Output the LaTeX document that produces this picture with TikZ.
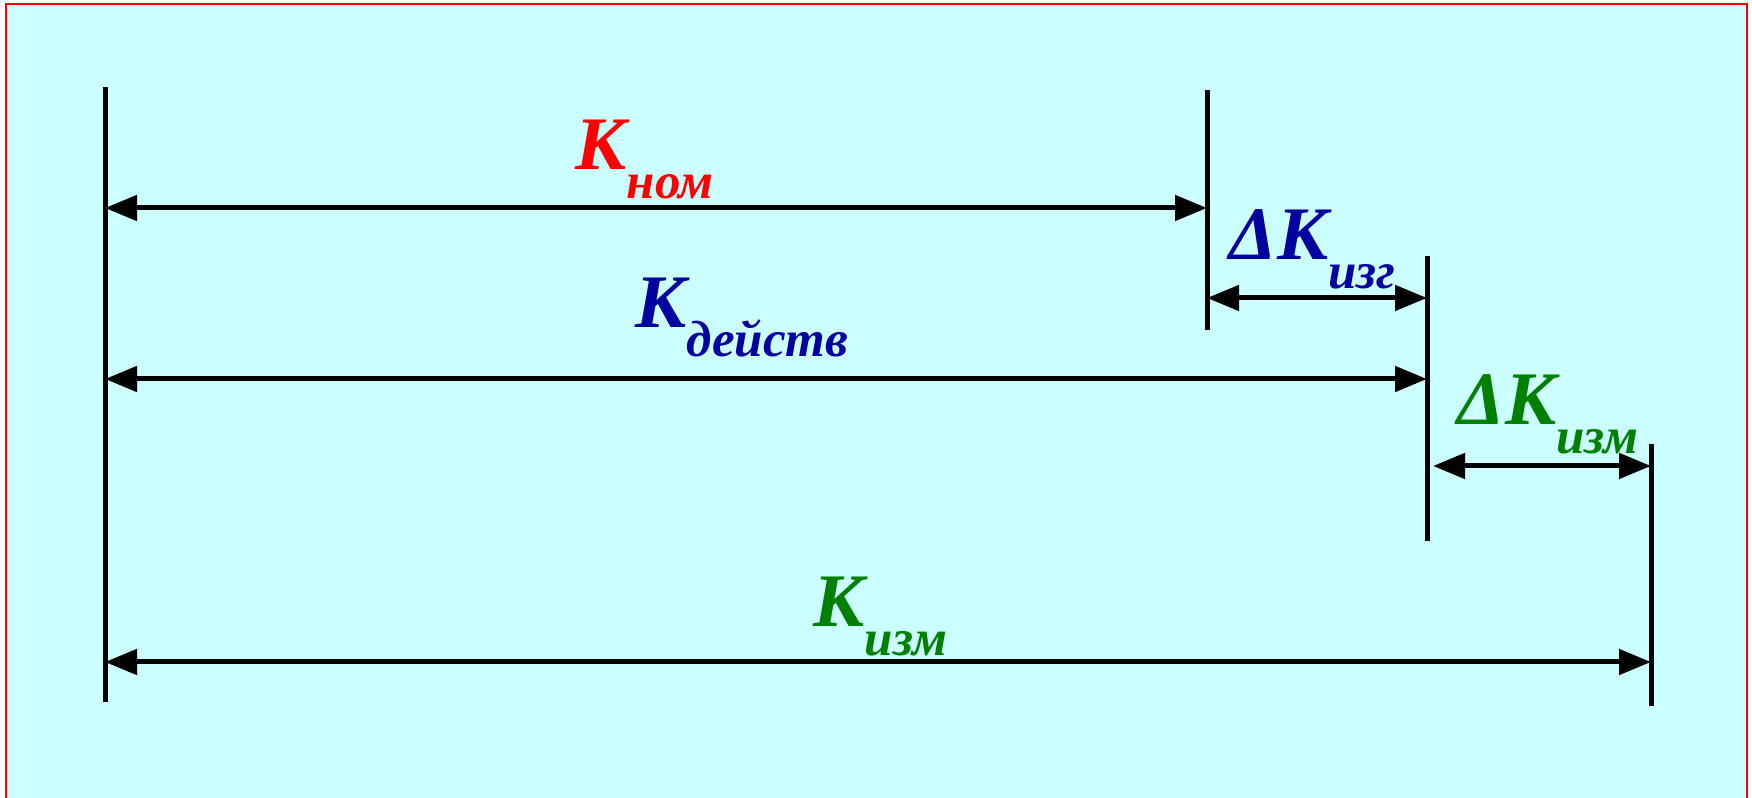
\documentclass[tikz,border=0pt]{standalone}
\usepackage{fontspec}
\setmainfont{Liberation Serif}
\usetikzlibrary{arrows.meta}
\definecolor{bgcyan}{RGB}{204,255,255}
\definecolor{nomred}{RGB}{255,0,0}
\definecolor{izgblue}{RGB}{0,0,160}
\definecolor{izmgreen}{RGB}{0,128,0}
\newcommand{\klabel}[2]{#1\raisebox{-0.28cm}{\fontsize{14.5}{14.5}\selectfont #2}}
\tikzset{
  extline/.style={line width=0.05cm, black},
  dimarrow/.style={line width=0.05cm, black,
    {Triangle[length=0.32cm,width=0.25cm]}-{Triangle[length=0.32cm,width=0.25cm]}},
  klab/.style={inner sep=0pt, anchor=base west,
    font=\fontsize{21.5}{21.5}\selectfont\bfseries\itshape}
}
\begin{document}
\begin{tikzpicture}[x=0.01cm, y=-0.01cm]
  \clip (0,0) rectangle (1752,798);
  % Frame
  \draw[draw=red, line width=0.022cm, fill=bgcyan] (6,4) rectangle (1747,830);
  % Extension lines
  \coordinate (L1top) at (105,87);   \coordinate (L1bot) at (105,702);
  \coordinate (L2top) at (1207,90);  \coordinate (L2bot) at (1207,330);
  \coordinate (L3top) at (1427,256); \coordinate (L3bot) at (1427,541);
  \coordinate (L4top) at (1651,444); \coordinate (L4bot) at (1651,706);
  \draw[extline] (L1top) -- (L1bot);
  \draw[extline] (L2top) -- (L2bot);
  \draw[extline] (L3top) -- (L3bot);
  \draw[extline] (L4top) -- (L4bot);
  % K_nom
  \coordinate (nomA) at (105,208);  \coordinate (nomB) at (1207,208);
  \draw[dimarrow] (nomA) -- (nomB);
  \node[klab, text=nomred] (knom) at (575,170) {\klabel{К}{ном}};
  % Delta K_izg
  \coordinate (izgA) at (1207,298); \coordinate (izgB) at (1427,298);
  \draw[dimarrow] (izgA) -- (izgB);
  \node[klab, text=izgblue] (dkizg) at (1229,260) {\klabel{ΔК}{изг}};
  % K_dejstv
  \coordinate (dejA) at (105,379);  \coordinate (dejB) at (1427,379);
  \draw[dimarrow] (dejA) -- (dejB);
  \node[klab, text=izgblue] (kdej) at (635,328) {\klabel{К}{действ}};
  % Delta K_izm
  \coordinate (dizmA) at (1433,466); \coordinate (dizmB) at (1651,466);
  \draw[dimarrow] (dizmA) -- (dizmB);
  \node[klab, text=izmgreen] (dkizm) at (1457,425) {\klabel{ΔК}{изм}};
  % K_izm
  \coordinate (izmA) at (105,662);  \coordinate (izmB) at (1651,662);
  \draw[dimarrow] (izmA) -- (izmB);
  \node[klab, text=izmgreen] (kizm) at (813,627) {\klabel{К}{изм}};
\end{tikzpicture}
\end{document}
